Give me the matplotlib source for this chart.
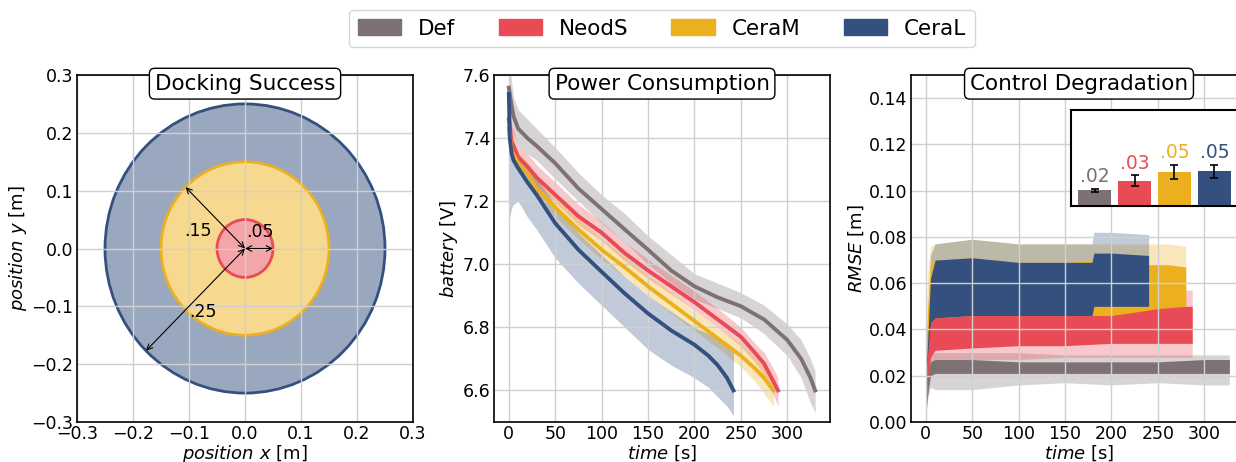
import math
import matplotlib.pyplot as plt
from matplotlib.patches import Circle, Patch
from matplotlib.colors import to_rgb

names = ['Def', 'NeodS', 'CeraM', 'CeraL']
colors = ['#7e7174', '#e84b55', '#ecb01f', '#34507f']

# docking success radii (outer to inner)
dock_names = ['CeraL', 'CeraM', 'NeodS']
dock_radius = [0.25, 0.15, 0.05]
dock_labels = ['.25', '.15', '.05']

# battery voltage: mean curve and band edges
def_t = [0, 2, 5, 10, 20, 30, 50, 75, 100, 125, 150, 175, 200, 225, 250, 275, 300, 315, 325, 330]
def_v = [7.56, 7.52, 7.47, 7.43, 7.40, 7.375, 7.32, 7.24, 7.175, 7.11, 7.046, 6.98, 6.93, 6.895, 6.867, 6.825, 6.76, 6.70, 6.64, 6.60]
def_lo = [7.45, 7.44, 7.41, 7.38, 7.35, 7.33, 7.27, 7.20, 7.13, 7.07, 7.00, 6.94, 6.89, 6.86, 6.83, 6.78, 6.71, 6.64, 6.56, 6.53]
def_hi = [7.62, 7.60, 7.53, 7.49, 7.46, 7.43, 7.37, 7.29, 7.22, 7.16, 7.09, 7.03, 6.97, 6.94, 6.91, 6.87, 6.81, 6.76, 6.70, 6.66]

neo_t = [0, 3, 10, 20, 30, 50, 75, 100, 125, 150, 175, 200, 225, 250, 265, 275, 283, 290]
neo_v = [7.46, 7.39, 7.34, 7.31, 7.275, 7.22, 7.152, 7.10, 7.035, 6.98, 6.93, 6.88, 6.825, 6.77, 6.72, 6.685, 6.64, 6.60]
neo_lo = [7.42, 7.36, 7.31, 7.28, 7.25, 7.195, 7.125, 7.075, 7.01, 6.955, 6.905, 6.855, 6.80, 6.74, 6.69, 6.65, 6.60, 6.55]
neo_hi = [7.51, 7.44, 7.38, 7.35, 7.315, 7.26, 7.19, 7.135, 7.07, 7.015, 6.965, 6.915, 6.86, 6.80, 6.75, 6.72, 6.68, 6.64]

cem_t = [0, 3, 10, 20, 30, 50, 75, 100, 125, 150, 175, 200, 225, 250, 265, 275, 285]
cem_v = [7.43, 7.36, 7.32, 7.29, 7.24, 7.18, 7.11, 7.046, 6.99, 6.93, 6.875, 6.82, 6.765, 6.71, 6.67, 6.64, 6.60]
cem_lo = [7.40, 7.33, 7.29, 7.26, 7.21, 7.15, 7.08, 7.016, 6.96, 6.90, 6.845, 6.79, 6.735, 6.675, 6.63, 6.59, 6.55]
cem_hi = [7.47, 7.40, 7.355, 7.325, 7.275, 7.215, 7.145, 7.08, 7.025, 6.965, 6.91, 6.855, 6.80, 6.75, 6.71, 6.68, 6.64]

cel_t = [0, 1, 3, 5, 10, 20, 30, 50, 75, 100, 125, 150, 175, 200, 215, 225, 235, 242]
cel_v = [7.54, 7.40, 7.35, 7.33, 7.305, 7.26, 7.22, 7.13, 7.046, 6.976, 6.907, 6.844, 6.79, 6.745, 6.71, 6.68, 6.64, 6.60]
cel_lo = [7.13, 7.15, 7.18, 7.19, 7.20, 7.15, 7.11, 7.02, 6.94, 6.87, 6.80, 6.73, 6.68, 6.64, 6.61, 6.58, 6.55, 6.52]
cel_hi = [7.55, 7.45, 7.40, 7.38, 7.35, 7.31, 7.27, 7.19, 7.10, 7.03, 6.96, 6.90, 6.85, 6.80, 6.78, 6.76, 6.74, 6.73]

# RMSE: oscillation envelope (line) and spread band
r_def_t = [0, 2, 5, 10, 50, 100, 150, 200, 250, 300, 327]
r_def_lo = [0.004, 0.012, 0.020, 0.021, 0.021, 0.021, 0.021, 0.021, 0.021, 0.021, 0.021]
r_def_hi = [0.008, 0.020, 0.026, 0.027, 0.027, 0.026, 0.026, 0.026, 0.026, 0.027, 0.027]
r_def_blo = [0.002, 0.010, 0.015, 0.014, 0.014, 0.016, 0.017, 0.016, 0.017, 0.016, 0.016]
r_def_bhi = [0.010, 0.024, 0.029, 0.030, 0.030, 0.030, 0.029, 0.029, 0.029, 0.029, 0.029]

r_neo_t = [0, 2, 5, 10, 50, 100, 150, 200, 250, 280, 287]
r_neo_lo = [0.013, 0.015, 0.028, 0.031, 0.032, 0.033, 0.033, 0.034, 0.034, 0.034, 0.034]
r_neo_hi = [0.020, 0.030, 0.043, 0.045, 0.046, 0.046, 0.046, 0.046, 0.049, 0.050, 0.050]
r_neo_blo = [0.010, 0.012, 0.024, 0.026, 0.027, 0.027, 0.028, 0.028, 0.028, 0.028, 0.028]
r_neo_bhi = [0.024, 0.034, 0.048, 0.050, 0.050, 0.050, 0.051, 0.053, 0.055, 0.057, 0.057]

r_cem_t = [0, 2, 5, 10, 50, 100, 150, 200, 240, 260, 280]
r_cem_lo = [0.018, 0.025, 0.040, 0.044, 0.044, 0.044, 0.045, 0.045, 0.045, 0.045, 0.045]
r_cem_hi = [0.030, 0.050, 0.068, 0.070, 0.071, 0.069, 0.069, 0.070, 0.068, 0.068, 0.067]
r_cem_blo = [0.012, 0.020, 0.034, 0.037, 0.037, 0.037, 0.038, 0.038, 0.038, 0.038, 0.038]
r_cem_bhi = [0.040, 0.065, 0.076, 0.077, 0.079, 0.077, 0.077, 0.077, 0.077, 0.077, 0.076]

r_cel_t = [0, 2, 5, 10, 50, 100, 150, 179, 181, 200, 240]
r_cel_lo = [0.018, 0.020, 0.035, 0.045, 0.046, 0.046, 0.046, 0.046, 0.050, 0.050, 0.050]
r_cel_hi = [0.022, 0.035, 0.062, 0.070, 0.071, 0.069, 0.069, 0.069, 0.073, 0.073, 0.072]
r_cel_blo = [0.015, 0.017, 0.030, 0.040, 0.040, 0.040, 0.040, 0.040, 0.042, 0.043, 0.043]
r_cel_bhi = [0.026, 0.045, 0.072, 0.077, 0.079, 0.077, 0.077, 0.077, 0.082, 0.082, 0.081]

# overall RMSE per config (inset bars)
rmse_mean = [0.021, 0.034, 0.046, 0.047]
rmse_err = [0.0022, 0.0075, 0.010, 0.0087]


def light(c, a=0.5):
    r, g, b = to_rgb(c)
    return (1 - a + a * r, 1 - a + a * g, 1 - a + a * b)


def boxed_title(ax, s):
    ax.text(0.5, 0.975, s, transform=ax.transAxes, ha='center', va='center',
            fontsize=15.5, zorder=20,
            bbox=dict(boxstyle='round,pad=0.25', fc='white', ec='black', lw=1))


col = dict(zip(names, colors))
fig = plt.figure(figsize=(12.36, 4.62), dpi=100)
W, H = 1236, 462
ax1 = fig.add_axes([77 / W, 1 - 422 / H, 336 / W, 347 / H])
ax2 = fig.add_axes([494 / W, 1 - 422 / H, 336 / W, 347 / H])
ax3 = fig.add_axes([911 / W, 1 - 422 / H, 336 / W, 347 / H])

for ax in (ax1, ax2, ax3):
    ax.grid(True, color='#d0d0d0', lw=1)
    ax.tick_params(labelsize=12.5, length=0, pad=2.5)
    for sp in ax.spines.values():
        sp.set_linewidth(1.2)

# --- Docking success
for n, r in zip(dock_names, dock_radius):
    ax1.add_patch(Circle((0, 0), r, fc=light(col[n]), ec=col[n], lw=2, zorder=1))
for ang, r in zip([225, 135, 0], dock_radius):
    x = r * math.cos(math.radians(ang))
    y = r * math.sin(math.radians(ang))
    ax1.annotate('', xy=(x, y), xytext=(0, 0),
                 arrowprops=dict(arrowstyle='<->', color='black', lw=0.8,
                                 shrinkA=0, shrinkB=0), zorder=5)
for s, (x, y) in zip(dock_labels, [(-0.075, -0.109), (-0.084, 0.031), (0.027, 0.028)]):
    ax1.text(x, y, s, ha='center', va='center', fontsize=12.5, zorder=6)
ax1.set_xlim(-0.3, 0.3)
ax1.set_ylim(-0.3, 0.3)
ax1.set_xticks([-0.3, -0.2, -0.1, 0.0, 0.1, 0.2, 0.3])
ax1.set_yticks([-0.3, -0.2, -0.1, 0.0, 0.1, 0.2, 0.3])
ax1.set_xlabel(r'$position\ x$ [m]', fontsize=13, labelpad=0)
ax1.set_ylabel(r'$position\ y$ [m]', fontsize=13, labelpad=2)
boxed_title(ax1, 'Docking Success')

# --- Power consumption
power = [(def_t, def_v, def_lo, def_hi), (neo_t, neo_v, neo_lo, neo_hi),
         (cem_t, cem_v, cem_lo, cem_hi), (cel_t, cel_v, cel_lo, cel_hi)]
for c, (t, v, lo, hi) in zip(colors, power):
    ax2.fill_between(t, lo, hi, color=c, alpha=0.3, lw=0)
for c, (t, v, lo, hi) in zip(colors, power):
    ax2.plot(t, v, color=c, lw=2.8)
ax2.set_xlim(-16, 346)
ax2.set_ylim(6.5, 7.6)
ax2.set_xticks(range(0, 301, 50))
ax2.set_yticks([6.6, 6.8, 7.0, 7.2, 7.4, 7.6])
ax2.set_xlabel(r'$time$ [s]', fontsize=13, labelpad=0)
ax2.set_ylabel(r'$battery$ [V]', fontsize=13, labelpad=2)
boxed_title(ax2, 'Power Consumption')
ax2.legend(handles=[Patch(color=c, label=n) for n, c in zip(names, colors)],
           ncol=4, loc='lower center', bbox_to_anchor=(0.5, 1.08),
           fontsize=15.5, handleheight=0.8, borderaxespad=0)

# --- Control degradation
rmse = {'Def': (r_def_t, r_def_lo, r_def_hi, r_def_blo, r_def_bhi),
        'NeodS': (r_neo_t, r_neo_lo, r_neo_hi, r_neo_blo, r_neo_bhi),
        'CeraM': (r_cem_t, r_cem_lo, r_cem_hi, r_cem_blo, r_cem_bhi),
        'CeraL': (r_cel_t, r_cel_lo, r_cel_hi, r_cel_blo, r_cel_bhi)}
for n in names:
    t, lo, hi, blo, bhi = rmse[n]
    ax3.fill_between(t, blo, bhi, color=col[n], alpha=0.3, lw=0)
for n in ['CeraM', 'CeraL', 'NeodS', 'Def']:
    t, lo, hi, blo, bhi = rmse[n]
    ax3.fill_between(t, lo, hi, color=col[n], lw=0)
ax3.set_xlim(-16, 346)
ax3.set_ylim(0, 0.15)
ax3.set_xticks(range(0, 301, 50))
ax3.set_yticks([0.0, 0.02, 0.04, 0.06, 0.08, 0.10, 0.12, 0.14])
ax3.set_yticklabels(['%.2f' % v for v in ax3.get_yticks()])
ax3.set_xlabel(r'$time$ [s]', fontsize=13, labelpad=0)
ax3.set_ylabel(r'$RMSE$ [m]', fontsize=13, labelpad=2)
boxed_title(ax3, 'Control Degradation')

ins = fig.add_axes([1071 / W, 1 - 206 / H, 167 / W, 96 / H], zorder=10)
ins.bar(range(4), rmse_mean, width=0.83, color=colors)
ins.errorbar(range(4), rmse_mean, yerr=rmse_err, fmt='none', ecolor='black',
             capsize=3, lw=1.2, capthick=1.2)
for i, (m, e) in enumerate(zip(rmse_mean, rmse_err)):
    ins.annotate(('%.2f' % m).lstrip('0'), (i, m + e), xytext=(0, 2),
                 textcoords='offset points', ha='center', va='bottom',
                 fontsize=13.5, color=colors[i])
ins.set_xlim(-0.59, 3.59)
ins.set_ylim(0, 0.13)
ins.set_xticks([])
ins.set_yticks([])
for sp in ins.spines.values():
    sp.set_linewidth(1.5)

fig.savefig('out.png', dpi=100)
